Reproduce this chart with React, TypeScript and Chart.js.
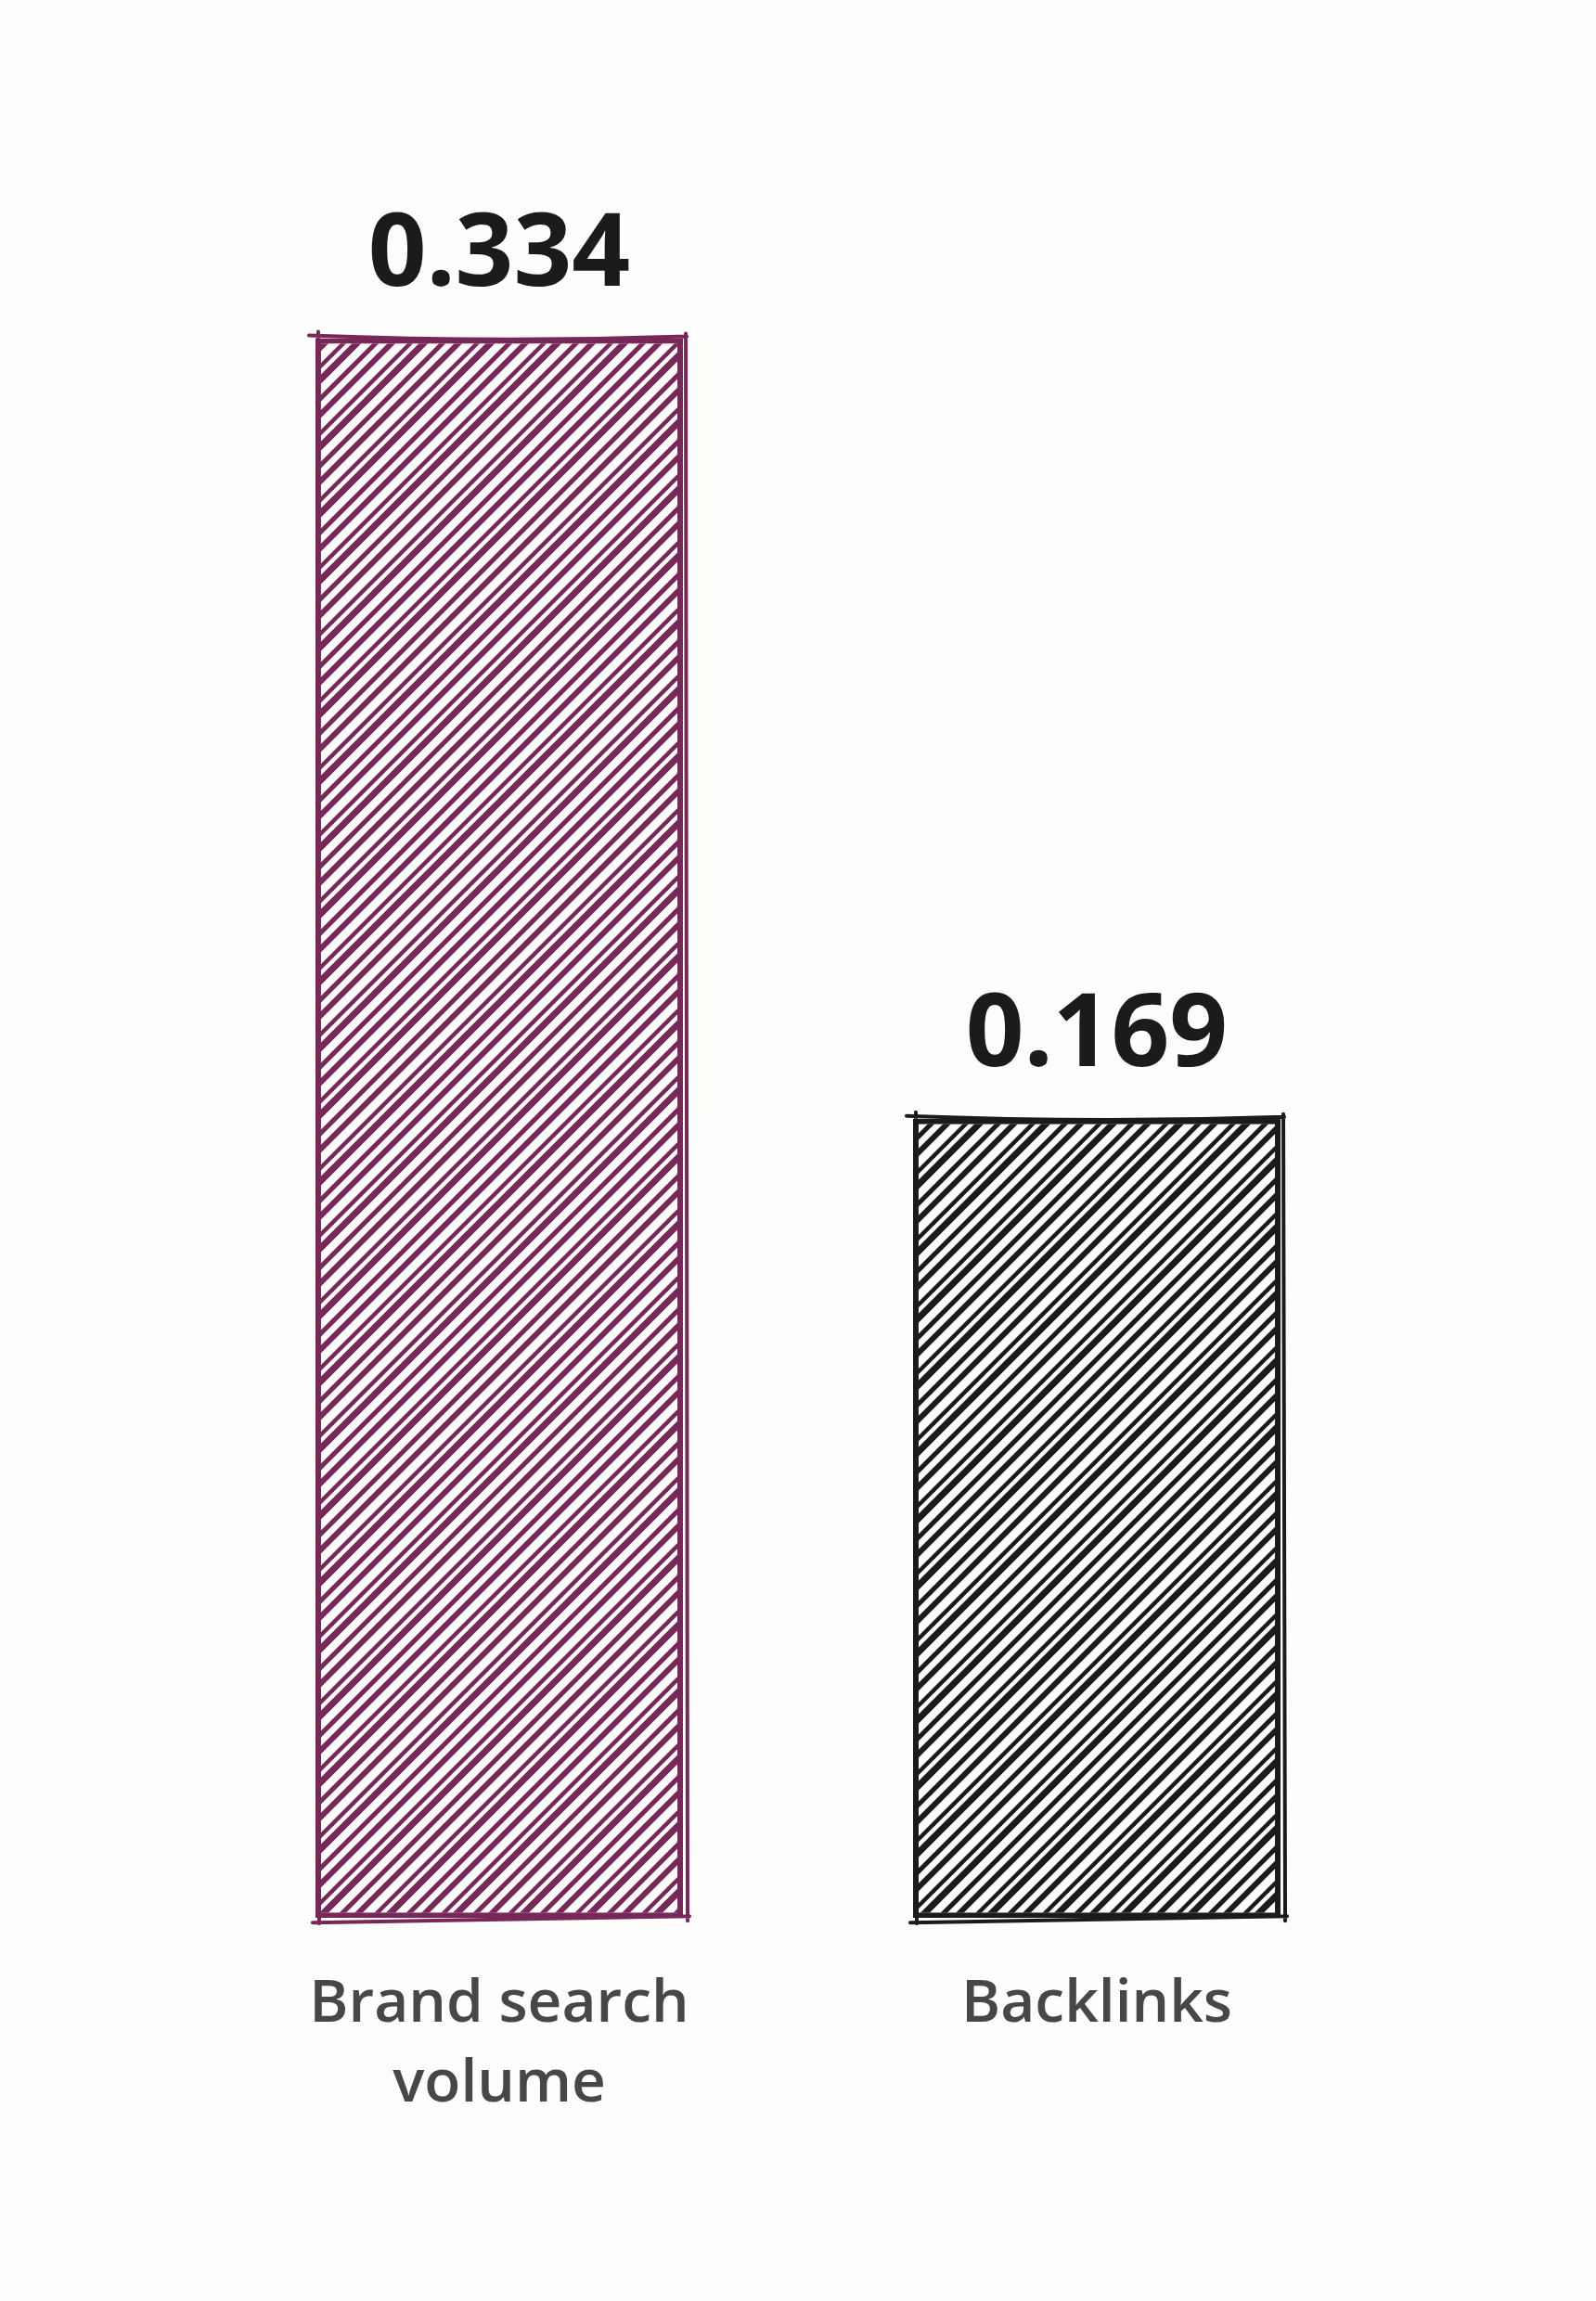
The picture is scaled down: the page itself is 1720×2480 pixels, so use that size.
import React, { useEffect, useRef } from "react";
import { Chart, registerables } from "chart.js";

Chart.register(...registerables);

const categoryLines = [["Brand search", "volume"], ["Backlinks"]];
const values = [0.334, 0.169];
const valueLabels = ["0.334", "0.169"];
const barColors = ["#782858", "#1a1c1a"];

function makeHatch(color: string): CanvasPattern | string {
  const w = 18;
  const h = 18;
  const reps = 4;
  const widths = [6, 4.5, 7, 5];
  const shifts = [0, 0.12, -0.08, 0.05];
  const c = document.createElement("canvas");
  c.width = w * reps;
  c.height = h * reps;
  const ctx = c.getContext("2d");
  if (!ctx) return color;
  ctx.fillStyle = "#fdfdfb";
  ctx.fillRect(0, 0, c.width, c.height);
  ctx.strokeStyle = color;
  ctx.lineCap = "butt";
  for (let n = -reps; n <= reps * 3; n++) {
    const m = ((n % reps) + reps) % reps;
    const nn = n + shifts[m];
    ctx.lineWidth = widths[m];
    ctx.beginPath();
    const y0 = -h;
    const y1 = c.height + h;
    ctx.moveTo((nn - y0 / h) * w, y0);
    ctx.lineTo((nn - y1 / h) * w, y1);
    ctx.stroke();
  }
  const p = ctx.createPattern(c, "repeat");
  return p || color;
}

const sketchPlugin = {
  id: "sketch",
  afterDatasetsDraw(chart: any) {
    const ctx = chart.ctx;
    const meta = chart.getDatasetMeta(0);
    meta.data.forEach((bar: any, i: number) => {
      const { x, y, base, width } = bar.getProps(["x", "y", "base", "width"], true);
      const l = x - width / 2;
      const r = x + width / 2;
      ctx.save();
      ctx.strokeStyle = barColors[i];
      ctx.lineWidth = 4;
      ctx.lineCap = "round";
      ctx.beginPath();
      ctx.moveTo(l - 7, y - 3);
      ctx.quadraticCurveTo(x, y + 5, r + 4, y - 2);
      ctx.moveTo(r + 3, y - 5);
      ctx.lineTo(r + 5, base + 3);
      ctx.moveTo(r + 7, base - 2);
      ctx.lineTo(l - 3, base + 5);
      ctx.moveTo(l + 4, base + 6);
      ctx.lineTo(l + 3, y - 7);
      ctx.stroke();
      ctx.restore();
    });
  },
};

const valueLabelPlugin = {
  id: "valueLabels",
  afterDatasetsDraw(chart: any) {
    const ctx = chart.ctx;
    const meta = chart.getDatasetMeta(0);
    ctx.save();
    ctx.font = "bold 110px 'Noto Sans'";
    ctx.fillStyle = "#1a1c1a";
    ctx.textAlign = "center";
    ctx.textBaseline = "alphabetic";
    meta.data.forEach((bar: any, i: number) => {
      const { x, y } = bar.getProps(["x", "y"], true);
      ctx.fillText(valueLabels[i], x, y - 57);
    });
    ctx.restore();
  },
};

export default function App() {
  const ref = useRef<HTMLCanvasElement>(null);

  useEffect(() => {
    if (!ref.current) return;
    const chart = new Chart(ref.current, {
      type: "bar",
      data: {
        labels: categoryLines as any,
        datasets: [
          {
            data: values,
            backgroundColor: barColors.map((c) => makeHatch(c)) as any,
            borderColor: barColors,
            borderWidth: 6,
            borderSkipped: false,
            barPercentage: 0.615,
            categoryPercentage: 1,
          },
        ],
      },
      options: {
        animation: false,
        responsive: false,
        devicePixelRatio: 1,
        layout: { padding: { top: 232, bottom: 140, left: 216, right: 216 } },
        plugins: {
          legend: { display: false },
          tooltip: { enabled: false },
        },
        scales: {
          x: {
            grid: { display: false, drawTicks: false },
            border: { display: false },
            ticks: {
              padding: 50,
              color: "#474747",
              font: { family: "'Open Sans'", weight: 600, size: 64, lineHeight: 1.35 },
            },
          },
          y: {
            display: false,
            min: 0,
            max: 0.36,
          },
        },
      },
      plugins: [sketchPlugin, valueLabelPlugin],
    });
    return () => chart.destroy();
  }, []);

  return (
    <div
      style={{
        position: "absolute",
        left: 0,
        top: 0,
        width: 1720,
        height: 2480,
        background: "#fdfdfb",
      }}
    >
      <canvas ref={ref} width={1720} height={2480} style={{ display: "block" }} />
    </div>
  );
}
